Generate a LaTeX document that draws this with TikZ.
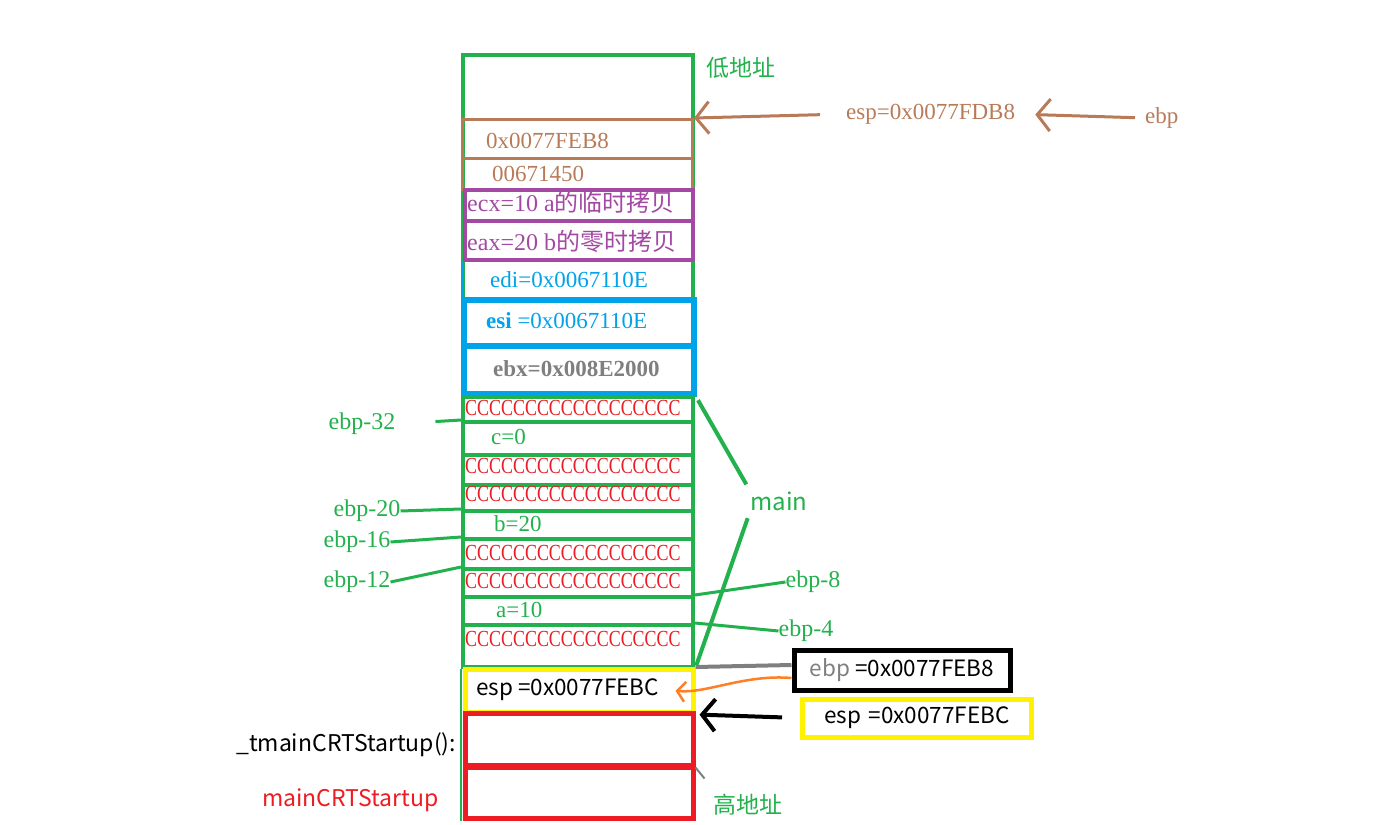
\documentclass[tikz,border=0pt]{standalone}
\usepackage{fontspec}
\usepackage{graphicx}
\setmainfont{Liberation Serif}
\newfontfamily\yahei{Noto Sans CJK SC}
\usetikzlibrary{arrows.meta,positioning,calc}
\definecolor{pgreen}{RGB}{34,177,76}
\definecolor{pbrown}{RGB}{185,122,87}
\definecolor{ppurple}{RGB}{163,73,164}
\definecolor{pblue}{RGB}{0,162,232}
\definecolor{pred}{RGB}{237,28,36}
\definecolor{pyellow}{RGB}{255,242,0}
\definecolor{porange}{RGB}{255,127,39}
\definecolor{pgray}{RGB}{127,127,127}

\begin{document}
\begin{tikzpicture}[x=1pt,y=-1pt,
    >={Straight Barb[length=13pt,width=32pt]},
    cell/.style={draw,anchor=north west,minimum width=230pt,inner sep=0pt},
    txt/.style={anchor=west,inner sep=0pt,font=\fontsize{23}{25}\selectfont},
    sans/.style={inner sep=0pt,font={\yahei\fontsize{22.5}{25}\selectfont}},
    lbl/.style={inner sep=0pt,text=pgreen,font=\fontsize{24}{26}\selectfont},
    gline/.style={draw=pgreen,line width=3pt}]
    \useasboundingbox (0,0) rectangle (1399,824);
    \node[cell,draw=pgreen,line width=4pt,minimum height=612pt](stack) at (461,53){};
    \draw[pgreen,line width=1.5pt](stack.south west)--++(0,152);
    \node[cell,draw=pbrown,line width=3pt,minimum height=39pt](fe) at (461,118){};
    \node[cell,draw=pbrown,line width=3pt,minimum height=31pt](ret) at (461,157){};
    \node[cell,draw=ppurple,line width=3.5pt,minimum width=228pt,minimum height=31pt](ecx) at (463,188){};
    \node[cell,draw=ppurple,line width=3.5pt,minimum width=228pt,minimum height=39pt](eax) at (463,219){};
    \draw[pblue,line width=2pt](eax.south west)--++(0,39);
    \node[cell,draw=pblue,line width=6pt,minimum height=46pt](esi) at (461,297){};
    \node[cell,draw=pblue,line width=6pt,minimum height=48pt](ebx) at (461,343){};
    \foreach \n/\t/\h in {r1/395/25,r2/420/33,r3/453/30,r4/483/26,r5/509/28,r6/537/30,r7/567/28,r8/595/28,r9/623/42}
        \node[cell,draw=pgreen,line width=4pt,minimum height=\h pt](\n) at (461,\t){};
    \node[cell,draw=pyellow,line width=4.5pt,minimum width=228pt,minimum height=43pt](ys) at (463,667){};
    \node[cell,draw=pred,line width=4.5pt,minimum width=228pt,minimum height=52pt](r10) at (463,711){};
    \node[cell,draw=pred,line width=4.5pt,minimum width=228pt,minimum height=51pt](r11) at (463,765){};

    \node[txt,text=pbrown](tfe) at (486,141){0x0077FEB8};
    \node[txt,text=pbrown](tret) at (492,174){00671450};
    \node[txt,text=ppurple,font=\fontsize{24}{26}\selectfont](tecx) at (467,202){ecx=10 a{\yahei 的临时拷贝}};
    \node[txt,text=ppurple,font=\fontsize{24}{26}\selectfont](teax) at (467,241){eax=20 b{\yahei 的零时拷贝}};
    \node[txt,text=pblue](tedi) at (490,280){edi=0x0067110E};
    \node[txt,text=pblue](tesi) at (486,321){\textbf{esi} =0x0067110E};
    \node[txt,text=pgray](tebx) at (493,369){\textbf{ebx=0x008E2000}};
    \foreach \y [count=\i] in {408,466,494,553,581,639}
        \node[txt,text=pred](cc\i) at (465,\y){\scalebox{0.78}[1]{CCCCCCCCCCCCCCCCCC}};
    \node[txt,text=pgreen](tc) at (491,437){c=0};
    \node[txt,text=pgreen](tb) at (494,524){b=20};
    \node[txt,text=pgreen](ta) at (496,610){a=10};
    \node[sans,anchor=west](tesp) at (476,690){esp =0x0077FEBC};

    \node[sans,text=pgreen,font={\yahei\fontsize{23}{26}\selectfont}](low) at (741,68){低地址};
    \node[sans,text=pgreen,font={\yahei\fontsize{23}{26}\selectfont}](high) at (748,805){高地址};
    \node[sans,anchor=west,font={\yahei\fontsize{23}{25}\selectfont}](tmain) at (236,745){\_tmainCRTStartup():};
    \node[sans,anchor=west,text=pred,font={\yahei\fontsize{23}{25}\selectfont}](mcrt) at (262,800){mainCRTStartup};

    \node[lbl](e32) at (362,424){ebp-32};
    \node[lbl](e20) at (367,511){ebp-20};
    \node[lbl](e16) at (357,542){ebp-16};
    \node[lbl](e12) at (357,582){ebp-12};
    \node[lbl](e8) at (813,582){ebp-8};
    \node[lbl](e4) at (806,631){ebp-4};
    \draw[gline,shorten <=40pt](e32.east)--(r2.north west);
    \draw[gline](e20.east)--(r5.north west);
    \draw[gline](e16.east)--(r6.north west);
    \draw[gline](e12.east)--(r7.north west);
    \draw[gline](e8.west)--(r8.north east);
    \draw[gline](e4.west)--(r9.north east);

    \node[sans,text=pgreen,font={\yahei\fontsize{24}{26}\selectfont}](main) at (779,501){main};
    \draw[gline,line width=4pt,shorten <=8pt,shorten >=6pt](main.north west)--(r1.north east);
    \draw[gline,line width=4pt,shorten <=8pt,shorten >=4pt](main.south west)--(r9.south east);

    \node[txt,text=pbrown](espT) at (846,114){esp=0x0077FDB8};
    \node[txt,text=pbrown](ebpT) at (1145,118){ebp};
    \draw[->,pbrown,line width=3pt,shorten <=26pt](espT.west)--(fe.north east);
    \draw[->,pbrown,line width=3pt,shorten <=10pt,shorten >=20pt](ebpT.west)--(espT.east);

    \node[sans,draw=black,line width=5pt,minimum width=216pt,minimum height=40pt](ebpB) at (902,670){\textcolor{pgray}{ebp} =0x0077FEB8};
    \node[sans,draw=pyellow,line width=5pt,minimum width=229pt,minimum height=38pt](espB) at (917,718){esp\,\,=0x0077FEBC};
    \draw[pgray,line width=4pt]([yshift=5pt]ebpB.west)--(ys.north east);
    \draw[->,line width=4pt,shorten <=18pt,shorten >=4pt](espB.west)--(ys.south east);
    \draw[->,porange,line width=2.5pt,>={Straight Barb[length=8pt,width=20pt]}]([yshift=-8pt]ebpB.west) .. controls (745,674) and (705,694) .. ([xshift=-20pt]ys.east);
    \draw[pgray,line width=2pt](r10.south east)--++(9,11);
\end{tikzpicture}
\end{document}
